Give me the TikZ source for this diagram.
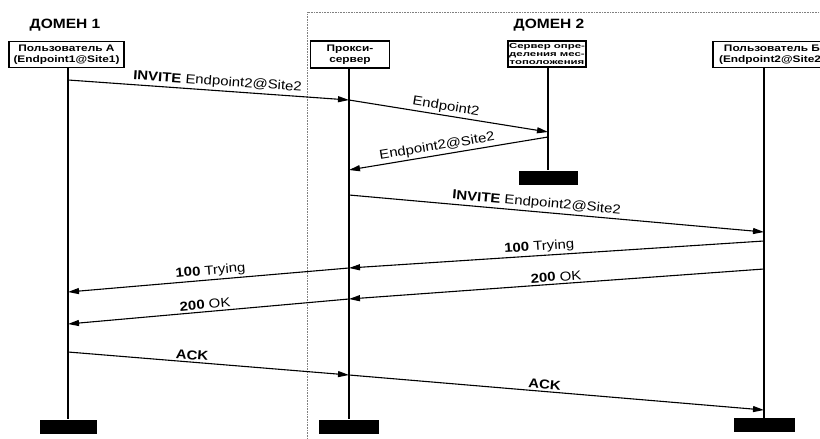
\documentclass[tikz,border=0pt]{standalone}
\usepackage{fontspec}
\setmainfont{Liberation Sans}[FakeStretch=1.15]
\newfontfamily\boxfont{Liberation Sans}[FakeStretch=1.25]
\usetikzlibrary{arrows.meta}
\tikzset{
  actor/.style={draw, line width=1.1pt, fill=white, align=center,
    font=\boxfont\bfseries\fontsize{9.5}{11}\selectfont, inner sep=1pt},
  lifeline/.style={line width=1.2pt},
  msg/.style={line width=1.1pt, -{Triangle[length=11pt,width=6pt]}},
  lbl/.style={sloped, above, font=\fontsize{13}{15}\selectfont, inner sep=2pt},
  endbar/.style={fill=black, minimum height=14pt, inner sep=0pt},
  domlabel/.style={font=\bfseries\fontsize{13.5}{15}\selectfont},
  zone/.style={gray, densely dotted, line width=0.6pt}
}
\begin{document}
\begin{tikzpicture}[x=1pt,y=-1pt]
\useasboundingbox (0,0) rectangle (820,439);
\clip (0,0) rectangle (820,439);
% domain 2 zone
\draw[zone] (307,445) -- (307,12) -- (830,12);
% domain labels
\node[domlabel] (d1) at (65,25) {ДОМЕН 1};
\node[domlabel] (d2) at (549,25) {ДОМЕН 2};
% actors
\node[actor, minimum width=115pt, minimum height=26pt] (A) at (66.5,54.5) {Пользователь А\\(Endpoint1@Site1)};
\node[actor, minimum width=79pt, minimum height=27pt] (P) at (350,54.5) {Прокси-\\сервер};
\node[actor, minimum width=78pt, minimum height=26pt, inner sep=0.3pt,
  font=\boxfont\bfseries\fontsize{7.3}{7.9}\selectfont] (L) at (547,54)
  {\scalebox{1.25}[1]{Сервер опре-}\\\scalebox{1.25}[1]{деления мес-}\\\scalebox{1.25}[1]{тоположения}};
\node[actor, minimum width=118pt, minimum height=26pt] (B) at (772,54.5) {Пользователь Б\\(Endpoint2@Site2)};
% end bars
\node[endbar, minimum width=57pt] (Aend) at (68,426.5) {};
\node[endbar, minimum width=60pt] (Pend) at (349,426.5) {};
\node[endbar, minimum width=59pt] (Lend) at (548,177.5) {};
\node[endbar, minimum width=61pt] (Bend) at (764,425) {};
% lifelines
\draw[lifeline] (A.south -| Aend.north) -- (Aend.north);
\draw[lifeline] (P.south -| Pend.north) -- (Pend.north);
\draw[lifeline] (L.south -| Lend.north) -- (Lend.north);
\draw[lifeline] (B.south -| Bend.north) -- (Bend.north);
% message points
\coordinate (a1) at (68,80);
\coordinate (p1) at (349,100);
\coordinate (l1) at (548,132);
\coordinate (l2) at (548,137);
\coordinate (p2) at (349,170);
\coordinate (p3) at (349,195);
\coordinate (b1) at (764,232);
\coordinate (b2) at (764,241);
\coordinate (p4) at (349,268);
\coordinate (a2) at (68,292);
\coordinate (b3) at (764,269);
\coordinate (p5) at (349,299);
\coordinate (a3) at (68,324);
\coordinate (a4) at (68,352);
\coordinate (p6) at (349,375);
\coordinate (b4) at (764,410);
% messages
\draw[msg] (a1) -- node[lbl, pos=.53] {\textbf{INVITE} Endpoint2@Site2} (p1);
\draw[msg] (p1) -- node[lbl, pos=.48] {Endpoint2} (l1);
\draw[msg] (l2) -- node[lbl, pos=.55] {Endpoint2@Site2} (p2);
\draw[msg] (p3) -- node[lbl, pos=.45] {\textbf{INVITE} Endpoint2@Site2} (b1);
\draw[msg] (b2) -- node[lbl, pos=.54] {\textbf{100} Trying} (p4);
\draw[msg] (p4) -- node[lbl, pos=.49] {\textbf{100} Trying} (a2);
\draw[msg] (b3) -- node[lbl, pos=.50] {\textbf{200} OK} (p5);
\draw[msg] (p5) -- node[lbl, pos=.51] {\textbf{200} OK} (a3);
\draw[msg] (a4) -- node[lbl, pos=.44] {\textbf{ACK}} (p6);
\draw[msg] (p6) -- node[lbl, pos=.47] {\textbf{ACK}} (b4);
\end{tikzpicture}
\end{document}
